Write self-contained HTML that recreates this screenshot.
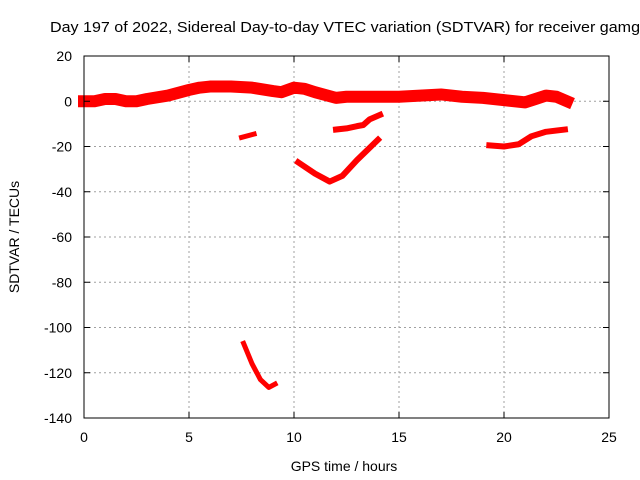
<!DOCTYPE html>
<html><head><meta charset="utf-8"><style>
body{margin:0;background:#fff}
svg{display:block;font-family:"Liberation Sans",sans-serif}
</style></head><body>
<svg id="c" width="640" height="480">
<text x="50" y="32" font-size="15" textLength="590" lengthAdjust="spacingAndGlyphs">Day 197 of 2022, Sidereal Day-to-day VTEC variation (SDTVAR) for receiver gamg</text>
<g id="grid"></g><g id="series"></g><g id="axes"></g>
<text x="344" y="471" font-size="14" text-anchor="middle">GPS time / hours</text>
<text transform="translate(19,237) rotate(-90)" font-size="14" text-anchor="middle">SDTVAR / TECUs</text>
</svg>
<script>
const xTicks=[0,5,10,15,20,25];
const yTicks=[20,0,-20,-40,-60,-80,-100,-120,-140];
const mainH=[0,0.5,1,1.5,2,2.5,3,4,5,5.5,6,7,8,9,9.4,10,10.5,11,12,12.5,13,14,15,16,17,18,19,20,20.5,21,21.5,22,22.5,23];
const mainV=[0,0,1,1,0,0,1,2.5,5,6,6.5,6.5,6,4.5,4,6,5.5,4,1.5,2,2,2,2,2.5,3,2,1.5,0.5,0,-0.5,1,2.5,2,0];
const s2H=[7.5,8.1],s2V=[-16,-14.5];
const s3H=[10.2,11,11.7,12.3,13,14],s3V=[-27,-32,-35.5,-33,-26,-17];
const s4H=[12,12.5,13,13.3,13.6,14.1],s4V=[-12.5,-12,-11,-10.5,-8,-6];
const s5H=[19.3,20,20.7,21.3,22,22.9],s5V=[-19.5,-20,-19,-15.5,-13.5,-12.5];
const s6H=[7.6,8,8.4,8.8,9.1],s6V=[-107,-116,-123,-126.5,-125];
const X=h=>84+h*(525/25), Y=v=>56+(20-v)*(362/160);
const NS="http://www.w3.org/2000/svg";
function mk(t,a,p){const e=document.createElementNS(NS,t);for(const k in a)e.setAttribute(k,a[k]);p.appendChild(e);return e;}
const grid=document.getElementById('grid'),axes=document.getElementById('axes'),ser=document.getElementById('series');
xTicks.forEach(t=>{
 if(t>0&&t<25){const g=mk('line',{x1:X(t),x2:X(t),y1:56,y2:418,stroke:'#a0a0a0','stroke-dasharray':'2,3'},grid);
 
 }
 mk('line',{x1:X(t),x2:X(t),y1:418,y2:412,stroke:'#000'},axes);
 mk('line',{x1:X(t),x2:X(t),y1:56,y2:62,stroke:'#000'},axes);
 const l=mk('text',{x:X(t),y:442,'font-size':14,'text-anchor':'middle'},axes);l.textContent=t;
 
 
});
yTicks.forEach(t=>{
 if(t<20&&t>-140){const g=mk('line',{x1:84,x2:609,y1:Y(t),y2:Y(t),stroke:'#a0a0a0','stroke-dasharray':'2,3'},grid);
 
 }
 mk('line',{x1:84,x2:90,y1:Y(t),y2:Y(t),stroke:'#000'},axes);
 mk('line',{x1:609,x2:603,y1:Y(t),y2:Y(t),stroke:'#000'},axes);
 const l=mk('text',{x:72,y:Y(t)+5,'font-size':14,'text-anchor':'end'},axes);l.textContent=t;
 
 
});
const fr=mk('rect',{x:84,y:56,width:525,height:362,fill:'none',stroke:'#000'},axes);


function series(H,V,w,name){
 const p=mk('polyline',{points:H.map((h,i)=>X(h)+','+Y(V[i])).join(' '),fill:'none',stroke:'#ff0000','stroke-width':w,'stroke-linejoin':'round','stroke-linecap':'square'},ser);
 
 
}
series(mainH,mainV,12,'sdtvar-main-band');
series(s2H,s2V,5,'sdtvar-segment-2');
series(s3H,s3V,6,'sdtvar-segment-3');
series(s4H,s4V,6,'sdtvar-segment-4');
series(s5H,s5V,6,'sdtvar-segment-5');
series(s6H,s6V,5,'sdtvar-segment-6');
</script>
</body></html>
